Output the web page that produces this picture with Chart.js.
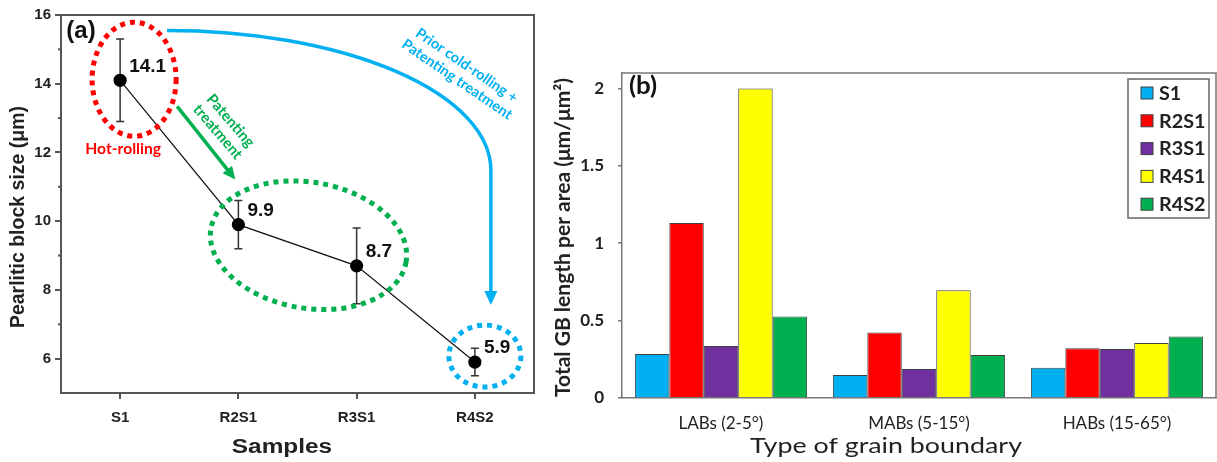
<!DOCTYPE html>
<html>
<head>
<meta charset="utf-8">
<script src="https://cdn.jsdelivr.net/npm/chart.js@4"></script>
<style>
  html, body { margin: 0; padding: 0; background: #fff; }
  #wrap { position: relative; width: 1217px; height: 462px; overflow: hidden; }
  canvas { position: absolute; top: 0; }
  #chart-a { left: 0; }
  #chart-b { left: 545px; }
</style>
</head>
<body>
<div id="wrap">
  <canvas id="chart-a" width="545" height="462"></canvas>
  <canvas id="chart-b" width="672" height="462"></canvas>
</div>
<script>
// panel (a) data
let samples = ['S1', 'R2S1', 'R3S1', 'R4S2']
let blockSize = [14.1, 9.9, 8.7, 5.9]
let blockHigh = [15.3, 10.6, 9.8, 6.3]
let blockLow = [12.9, 9.2, 7.6, 5.5]
let blockTicks = [6, 8, 10, 12, 14, 16]
let blockMinorTicks = [7, 9, 11, 13, 15]

// panel (b) data
let boundaryTypes = ['LABs (2-5°)', 'MABs (5-15°)', 'HABs (15-65°)']
let seriesNames = ['S1', 'R2S1', 'R3S1', 'R4S1', 'R4S2']
let seriesColors = ['#00b0f0', '#ff0000', '#7030a0', '#ffff00', '#00b050']
let gbS1 = [0.285, 0.149, 0.195]
let gbR2S1 = [1.13, 0.423, 0.322]
let gbR3S1 = [0.336, 0.188, 0.316]
let gbR4S1 = [2.0, 0.697, 0.355]
let gbR4S2 = [0.526, 0.278, 0.397]
let gbTicks = [0, 0.5, 1, 1.5, 2]

let arial = '"Liberation Sans", Arial, sans-serif'
let calibri = 'Lato, "Open Sans", sans-serif'

// little drawing helpers for the annotations
function dottedEllipse(ctx, cx, cy, rx, ry, rot, color) {
    ctx.save()
    ctx.strokeStyle = color
    ctx.lineWidth = 5
    ctx.setLineDash([5, 5])
    ctx.beginPath()
    ctx.ellipse(cx, cy, rx, ry, rot, 0, Math.PI * 2)
    ctx.stroke()
    ctx.restore()
}

function arrowHead(ctx, x, y, angle, len, half, color) {
    ctx.save()
    ctx.fillStyle = color
    ctx.translate(x, y)
    ctx.rotate(angle)
    ctx.beginPath()
    ctx.moveTo(0, 0)
    ctx.lineTo(-len, -half)
    ctx.lineTo(-len, half)
    ctx.closePath()
    ctx.fill()
    ctx.restore()
}

function rotatedLines(ctx, lines, cx, cy, angle, font, color, lineGap) {
    ctx.save()
    ctx.translate(cx, cy)
    ctx.rotate(angle)
    ctx.font = font
    ctx.fillStyle = color
    ctx.textAlign = 'center'
    ctx.textBaseline = 'middle'
    let start = -(lines.length - 1) * lineGap / 2
    lines.forEach(function(line, i) {
        ctx.fillText(line, 0, start + i * lineGap)
    })
    ctx.restore()
}

// the source figure is a bit wider than tall, so flat text gets a small stretch
function wideText(ctx, text, x, y, stretch) {
    ctx.save()
    ctx.translate(x, y)
    ctx.scale(stretch, 1)
    ctx.fillText(text, 0, 0)
    ctx.restore()
}

// frame, minor ticks, titles, error bars and notes for panel (a)
let panelAPlugin = {
    id: 'panelA',
    beforeDatasetsDraw(chart) {
        let ctx = chart.ctx
        let x = chart.scales.x
        let y = chart.scales.y
        ctx.save()
        ctx.strokeStyle = '#333'
        ctx.lineWidth = 1.5
        samples.forEach(function(s, i) {
            let px = x.getPixelForValue(i)
            let top = y.getPixelForValue(blockHigh[i])
            let bot = y.getPixelForValue(blockLow[i])
            ctx.beginPath()
            ctx.moveTo(px, top); ctx.lineTo(px, bot)
            ctx.moveTo(px - 4, top); ctx.lineTo(px + 4, top)
            ctx.moveTo(px - 4, bot); ctx.lineTo(px + 4, bot)
            ctx.stroke()
        })
        ctx.restore()
    },
    afterDraw(chart) {
        let ctx = chart.ctx
        let area = chart.chartArea
        let x = chart.scales.x
        let y = chart.scales.y
        ctx.save()
        // top and right frame
        ctx.strokeStyle = '#555'
        ctx.lineWidth = 2
        ctx.beginPath()
        ctx.moveTo(area.left, area.top)
        ctx.lineTo(area.right, area.top)
        ctx.lineTo(area.right, area.bottom)
        ctx.stroke()
        // minor ticks
        blockMinorTicks.forEach(function(v) {
            let py = y.getPixelForValue(v)
            ctx.beginPath()
            ctx.moveTo(area.left - 3, py)
            ctx.lineTo(area.left, py)
            ctx.stroke()
        })
        // axis titles
        ctx.fillStyle = '#222'
        ctx.font = 'bold 20px ' + arial
        ctx.textAlign = 'center'
        ctx.textBaseline = 'middle'
        wideText(ctx, 'Samples', area.left + 221, 447, 1.22)
        ctx.save()
        ctx.translate(19, area.top + 202)
        ctx.rotate(-Math.PI / 2)
        ctx.font = 'bold 19.5px ' + arial
        ctx.fillText('Pearlitic block size (μm)', 0, 0)
        ctx.restore()
        // panel letter
        ctx.font = 'bold 24px ' + arial
        ctx.fillStyle = '#111'
        ctx.fillText('(a)', area.left + 20, area.top + 16)
        // value labels
        ctx.font = 'bold 19px ' + arial
        ctx.textAlign = 'left'
        blockSize.forEach(function(v, i) {
            ctx.fillText(v.toFixed(1), x.getPixelForValue(i) + 9, y.getPixelForValue(v) - 14)
        })

        let p0x = x.getPixelForValue(0), p0y = y.getPixelForValue(blockSize[0])
        let p1x = x.getPixelForValue(1), p1y = y.getPixelForValue(blockSize[1])
        let p2x = x.getPixelForValue(2), p2y = y.getPixelForValue(blockSize[2])
        let p3x = x.getPixelForValue(3), p3y = y.getPixelForValue(blockSize[3])

        // dotted rings
        dottedEllipse(ctx, p0x + 14, p0y - 1, 42, 57, 0, '#ff0000')
        dottedEllipse(ctx, (p1x + p2x) / 2 + 11, (p1y + p2y) / 2, 99, 63, 0.17, '#00b050')
        dottedEllipse(ctx, p3x + 10, p3y - 6, 36, 31, 0, '#00b0f0')

        // red note
        ctx.font = 'bold 14.5px ' + calibri
        ctx.fillStyle = '#ff0000'
        ctx.textAlign = 'center'
        wideText(ctx, 'Hot-rolling', p0x + 3, p0y + 69, 1.08)

        // green arrow + note
        let gx1 = p0x + 57, gy1 = p0y + 26
        let gx2 = p1x - 3, gy2 = p1y - 45
        let ga = Math.atan2(gy2 - gy1, gx2 - gx1)
        ctx.strokeStyle = '#00b050'
        ctx.lineWidth = 3.5
        ctx.beginPath()
        ctx.moveTo(gx1, gy1)
        ctx.lineTo(gx2 - Math.cos(ga) * 8, gy2 - Math.sin(ga) * 8)
        ctx.stroke()
        arrowHead(ctx, gx2, gy2, ga, 13, 6, '#00b050')
        rotatedLines(ctx, ['Patenting', 'treatment'], p0x + 104, p0y + 46, 0.86,
            'bold 15px ' + calibri, '#00b050', 17)

        // blue curved arrow + note
        let bx0 = p0x + 47
        let bxEnd = p3x + 16
        let byTop = y.getPixelForValue(15.55)
        let byBend = byTop + 140
        ctx.strokeStyle = '#00b0f0'
        ctx.lineWidth = 3.5
        ctx.beginPath()
        ctx.ellipse(bx0, byBend, bxEnd - bx0, byBend - byTop, 0, -Math.PI / 2, 0)
        ctx.lineTo(bxEnd, p3y - 64)
        ctx.stroke()
        arrowHead(ctx, bxEnd, p3y - 57, Math.PI / 2, 14, 6.5, '#00b0f0')
        rotatedLines(ctx, ['Prior cold-rolling +', 'Patenting treatment'], bxEnd - 29, byTop + 42, 0.6,
            'bold 14.5px ' + calibri, '#00b0f0', 17)
        ctx.restore()
    }
}

// frame, titles and legend for panel (b)
let panelBPlugin = {
    id: 'panelB',
    afterDraw(chart) {
        let ctx = chart.ctx
        let area = chart.chartArea
        ctx.save()
        ctx.strokeStyle = '#777'
        ctx.lineWidth = 1.5
        ctx.beginPath()
        ctx.moveTo(area.left, area.top)
        ctx.lineTo(area.right, area.top)
        ctx.lineTo(area.right, area.bottom)
        ctx.stroke()

        ctx.fillStyle = '#222'
        ctx.textAlign = 'center'
        ctx.textBaseline = 'middle'
        ctx.font = '22px ' + calibri
        wideText(ctx, 'Type of grain boundary', area.left + 264, 446, 1.22)
        ctx.save()
        ctx.translate(18, (area.top + area.bottom) / 2 + 2)
        ctx.rotate(-Math.PI / 2)
        ctx.font = 'bold 21px ' + calibri
        ctx.fillText('Total GB length per area (μm/μm²)', 0, 0)
        ctx.restore()

        ctx.font = 'bold 24px ' + calibri
        ctx.fillStyle = '#111'
        wideText(ctx, '(b)', area.left + 21, area.top + 13, 1.08)

        // legend box
        let bw = 81, bh = 139
        let bx = area.right - bw - 7
        let by = area.top + 6
        ctx.strokeStyle = '#666'
        ctx.lineWidth = 1.5
        ctx.strokeRect(bx, by, bw, bh)
        ctx.font = 'bold 18px ' + calibri
        ctx.textAlign = 'left'
        chart.data.datasets.forEach(function(ds, i) {
            let iy = by + 14 + i * 27.8
            ctx.fillStyle = ds.backgroundColor
            ctx.fillRect(bx + 13, iy - 6, 12, 12)
            ctx.strokeStyle = '#404040'
            ctx.lineWidth = 1
            ctx.strokeRect(bx + 13, iy - 6, 12, 12)
            ctx.fillStyle = '#222'
            wideText(ctx, ds.label, bx + 31, iy + 1, 1.1)
        })
        ctx.restore()
    }
}

// chart (a)
let chartA = new Chart(document.querySelector('#chart-a'), {
    type: 'line',
    data: {
        labels: samples,
        datasets: [{
            label: 'Pearlitic block size',
            data: blockSize,
            borderColor: '#111',
            borderWidth: 1.2,
            pointRadius: 6,
            pointBackgroundColor: '#000',
            pointBorderColor: '#000',
            tension: 0
        }]
    },
    options: {
        responsive: false,
        animation: false,
        layout: { padding: { left: 0, top: 15, right: 11, bottom: 0 } },
        plugins: { legend: { display: false }, tooltip: { enabled: false } },
        scales: {
            x: {
                type: 'category',
                offset: true,
                afterFit: function(s) { s.height = 69 },
                grid: { drawOnChartArea: false, tickLength: 6, color: '#555', lineWidth: 2 },
                border: { color: '#555', width: 2 },
                ticks: { color: '#222', padding: 10, font: { family: arial, size: 15, weight: 'bold' } }
            },
            y: {
                min: 5,
                max: 16,
                afterFit: function(s) { s.width = 61 },
                afterBuildTicks: function(s) { s.ticks = blockTicks.map(v => ({ value: v })) },
                grid: { drawOnChartArea: false, tickLength: 6, color: '#555', lineWidth: 2 },
                border: { color: '#555', width: 2 },
                ticks: { color: '#222', padding: 4, font: { family: arial, size: 15, weight: 'bold' } }
            }
        }
    },
    plugins: [panelAPlugin]
})

// chart (b)
let gbSeries = [gbS1, gbR2S1, gbR3S1, gbR4S1, gbR4S2]
let chartB = new Chart(document.querySelector('#chart-b'), {
    type: 'bar',
    data: {
        labels: boundaryTypes,
        datasets: gbSeries.map(function(vals, i) {
            return {
                label: seriesNames[i],
                data: vals,
                backgroundColor: seriesColors[i],
                borderColor: '#404040',
                borderWidth: 1,
                barPercentage: 1,
                categoryPercentage: 0.87
            }
        })
    },
    options: {
        responsive: false,
        animation: false,
        layout: { padding: { left: 0, top: 73, right: 1, bottom: 0 } },
        plugins: { legend: { display: false }, tooltip: { enabled: false } },
        scales: {
            x: {
                afterFit: function(s) { s.height = 64 },
                grid: { display: false, drawTicks: false },
                border: { color: '#777', width: 1.5 },
                ticks: { color: '#222', padding: 15, font: { family: calibri, size: 17 } }
            },
            y: {
                min: 0,
                max: 2.1,
                afterFit: function(s) { s.width = 77 },
                afterBuildTicks: function(s) { s.ticks = gbTicks.map(v => ({ value: v })) },
                grid: { drawOnChartArea: false, tickLength: 4, color: '#777', lineWidth: 1.5 },
                border: { color: '#777', width: 1.5 },
                ticks: {
                    color: '#222', padding: 14,
                    font: { family: calibri, size: 17, weight: 'bold' },
                    callback: function(v) { return String(v) }
                }
            }
        }
    },
    plugins: [panelBPlugin]
})
</script>
</body>
</html>
